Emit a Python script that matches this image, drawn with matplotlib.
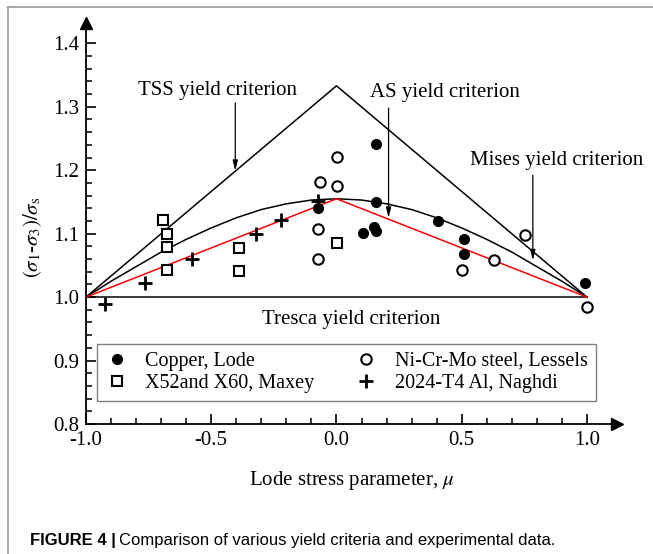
import matplotlib
matplotlib.use("Agg")
import matplotlib.pyplot as plt
from matplotlib.lines import Line2D
from matplotlib.ticker import FixedLocator

copper_mu = [-0.073, 0.156, 0.156, 0.105, 0.148, 0.158, 0.405, 0.511, 0.511, 0.992]
copper_val = [1.140, 1.242, 1.150, 1.101, 1.111, 1.104, 1.120, 1.091, 1.068, 1.023]

steel_mu = [0.003, -0.065, 0.003, -0.073, -0.073, 0.501, 0.628, 0.752, 1.001]
steel_val = [1.221, 1.181, 1.175, 1.107, 1.060, 1.0425, 1.059, 1.098, 0.985]

maxey_mu = [-0.692, -0.677, -0.677, -0.677, -0.391, -0.391, 0.003]
maxey_val = [1.121, 1.099, 1.079, 1.0425, 1.078, 1.041, 1.085]

naghdi_mu = [-0.924, -0.764, -0.577, -0.321, -0.221, -0.075]
naghdi_val = [0.989, 1.0225, 1.060, 1.100, 1.122, 1.151]

# yield criteria lines
tresca_mu = [-1.0, 1.0]
tresca_val = [1.0, 1.0]
tss_mu = [-1.0, 0.0, 1.0]
tss_val = [1.0, 1.333, 1.0]
as_mu = [-1.0, 0.0, 1.0]
as_val = [1.0, 1.155, 1.0]
mises_mu = [-1.0, -0.9, -0.8, -0.7, -0.6, -0.5, -0.4, -0.3, -0.2, -0.1, 0.0,
            0.1, 0.2, 0.3, 0.4, 0.5, 0.6, 0.7, 0.8, 0.9, 1.0]
mises_val = [1.000, 1.025, 1.048, 1.071, 1.091, 1.109, 1.125, 1.138, 1.147, 1.153, 1.155,
             1.153, 1.147, 1.138, 1.125, 1.109, 1.091, 1.071, 1.048, 1.025, 1.000]

xticks = [-1.0, -0.5, 0.0, 0.5, 1.0]
yticks = [0.8, 0.9, 1.0, 1.1, 1.2, 1.3, 1.4]

plt.rcParams['font.family'] = ['Liberation Serif', 'DejaVu Serif']
plt.rcParams['mathtext.fontset'] = 'stix'
plt.rcParams['axes.unicode_minus'] = False

fig = plt.figure(figsize=(6.53, 5.54), dpi=100)
ax = fig.add_axes([86/653, 130/554, 531/653, 401/554])

ax.plot(tresca_mu, tresca_val, color='black', lw=1.1)
ax.plot(tss_mu, tss_val, color='black', lw=1.1)
ax.plot(mises_mu, mises_val, color='black', lw=1.1)
ax.plot(as_mu, as_val, color='red', lw=1.1)

ax.plot(copper_mu, copper_val, 'o', color='black', ms=7, label='Copper, Lode', clip_on=False)
ax.plot(maxey_mu, maxey_val, 's', mfc='white', mec='black', mew=1.5, ms=7,
        label='X52and X60, Maxey', clip_on=False)
ax.plot(steel_mu, steel_val, 'o', mfc='white', mec='black', mew=1.5, ms=7.5,
        label='Ni-Cr-Mo steel, Lessels', clip_on=False)
ax.plot(naghdi_mu, naghdi_val, '+', color='black', mew=2, ms=10,
        label='2024-T4 Al, Naghdi', clip_on=False)

fs = 15
arrow = dict(arrowstyle='-|>,head_width=0.15,head_length=0.6',
             color='black', lw=0.9, shrinkA=0, shrinkB=0)
ax.text(-0.474, 1.326, 'TSS yield criterion', fontsize=fs, ha='center', va='center')
ax.annotate('', xy=(-0.404, 1.199), xytext=(-0.404, 1.306), arrowprops=arrow)
ax.text(0.434, 1.323, 'AS yield criterion', fontsize=fs, ha='center', va='center')
ax.annotate('', xy=(0.208, 1.125), xytext=(0.208, 1.298), arrowprops=arrow)
ax.text(0.88, 1.216, 'Mises yield criterion', fontsize=fs, ha='center', va='center')
ax.annotate('', xy=(0.784, 1.058), xytext=(0.784, 1.192), arrowprops=arrow)
ax.text(0.06, 0.964, 'Tresca yield criterion', fontsize=fs, ha='center', va='center')

ax.set_xlim(-1.0, 1.12)
ax.set_ylim(0.8, 1.432)
ax.spines['top'].set_visible(False)
ax.spines['right'].set_visible(False)
ax.spines['left'].set_linewidth(1.3)
ax.spines['bottom'].set_linewidth(1.3)
# axis arrows
ax.plot([1.12], [0.8], marker='>', color='black', ms=8, clip_on=False)
ax.plot([-1.0], [1.432], marker='^', color='black', ms=8, clip_on=False)

ax.set_xticks(xticks)
ax.set_xticklabels(['%.1f' % v for v in xticks])
ax.set_yticks(yticks)
ax.set_yticklabels(['%.1f' % v for v in yticks])
ax.xaxis.set_minor_locator(FixedLocator([-1.0 + 0.1 * i for i in range(21)]))
ax.yaxis.set_minor_locator(FixedLocator([0.8 + 0.02 * i for i in range(31)]))
ax.tick_params(which='major', direction='in', length=7, width=1.2, labelsize=fs, pad=5)
ax.tick_params(which='minor', direction='in', length=4, width=1.1)

ax.set_xlabel(r'Lode stress parameter, $\mu$', fontsize=fs, labelpad=14)
ax.set_ylabel(r'$(\sigma_1$-$\sigma_3)/\sigma_\mathrm{s}$', fontsize=fs)
ax.yaxis.set_label_coords(-0.08, 0.466)

h, l = ax.get_legend_handles_labels()
leg = ax.legend(h, l, ncol=2, loc='lower left', bbox_to_anchor=(0.0207, 0.057, 0.939, 0.145),
                mode='expand', borderaxespad=0, fontsize=14.5, frameon=True, fancybox=False,
                edgecolor='#808080', framealpha=1, handlelength=1.2, handletextpad=0.8,
                labelspacing=0.15, borderpad=0.4, columnspacing=1.0)
leg.get_frame().set_linewidth(1.0)

# outer frame of the figure panel
fig.add_artist(Line2D([8/653, 8/653], [0, 1 - 7/554], color='#999999', lw=1.2))
fig.add_artist(Line2D([8/653, 1], [1 - 7/554, 1 - 7/554], color='#999999', lw=1.2))

cap_font = ['Liberation Sans Narrow', 'Liberation Sans', 'DejaVu Sans']
t1 = fig.text(30/653, 1 - 540/554, 'FIGURE 4 |', fontsize=12, fontweight='bold',
              family=cap_font, va='center', ha='left')
fig.canvas.draw()
bb = t1.get_window_extent().transformed(fig.transFigure.inverted())
fig.text(bb.x1 + 3/653, 1 - 540/554, 'Comparison of various yield criteria and experimental data.',
         fontsize=12, family=cap_font, va='center', ha='left')

fig.savefig('out.png', dpi=100)
